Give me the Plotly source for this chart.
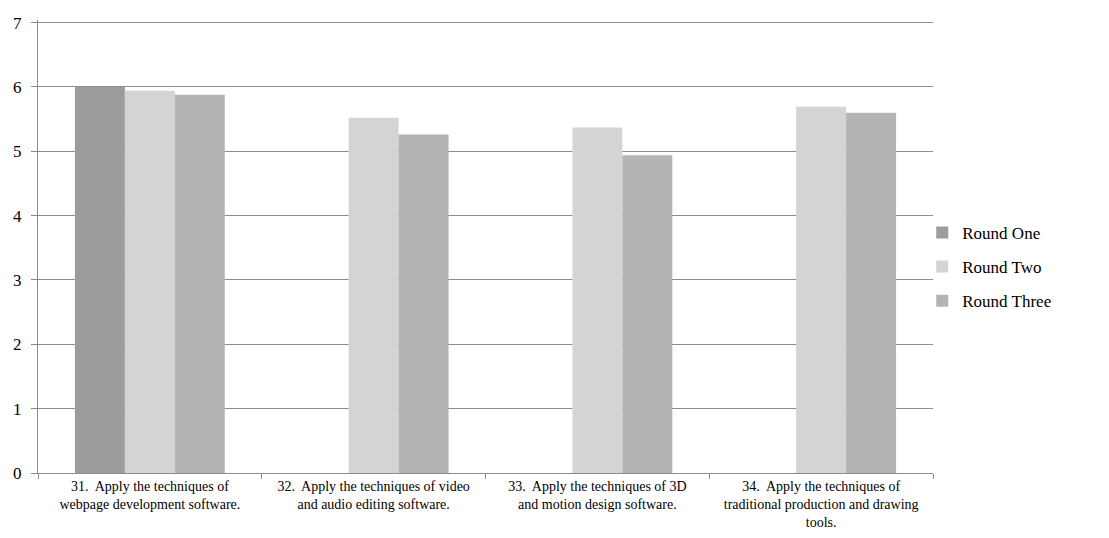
import plotly.graph_objects as go

categories = [
    "31.\u00a0 Apply the techniques of<br>webpage development software.",
    "32.\u00a0 Apply the techniques of video<br>and audio editing software.",
    "33.\u00a0 Apply the techniques of 3D<br>and motion design software.",
    "34.\u00a0 Apply the techniques of<br>traditional production and drawing<br>tools.",
]
round_one = [6.00, None, None, None]
round_two = [5.94, 5.52, 5.37, 5.69]
round_three = [5.88, 5.26, 4.94, 5.60]

series = [
    ("Round One", round_one, "#9c9c9c"),
    ("Round Two", round_two, "#d4d4d4"),
    ("Round Three", round_three, "#b4b4b4"),
]

fig = go.Figure()
for name, vals, col in series:
    fig.add_trace(go.Bar(
        name=name, x=categories, y=vals, legendgroup=name,
        marker=dict(color=col, line=dict(width=0)),
    ))

fig.update_layout(
    width=1109, height=538,
    margin=dict(l=30, r=184, t=12, b=73),
    paper_bgcolor="white", plot_bgcolor="white",
    barmode="group", bargap=0.33, bargroupgap=0,
    font=dict(family="Liberation Serif, Times New Roman, serif", color="black"),
    showlegend=True,
    legend=dict(x=0.988, xanchor="left", y=0.455, yanchor="middle",
                font=dict(size=17), itemwidth=30, tracegroupgap=9,
                bgcolor="rgba(0,0,0,0)"),
    xaxis=dict(
        type="category", showline=True, linecolor="#8c8c8c", linewidth=1,
        ticks="outside", tickson="boundaries", ticklen=5, tickcolor="#8c8c8c",
        tickfont=dict(size=14), showgrid=False, automargin=False,
    ),
    yaxis=dict(
        range=[0, 7.04], tickvals=[0, 1, 2, 3, 4, 5, 6, 7], showline=True,
        linecolor="#8c8c8c", linewidth=1,
        ticks="outside", ticklen=6, tickcolor="#8c8c8c", ticklabelstandoff=6,
        showgrid=True, gridcolor="#8c8c8c", gridwidth=1,
        tickfont=dict(size=17), zeroline=False, automargin=False,
    ),
)

fig.write_html("out.html")
